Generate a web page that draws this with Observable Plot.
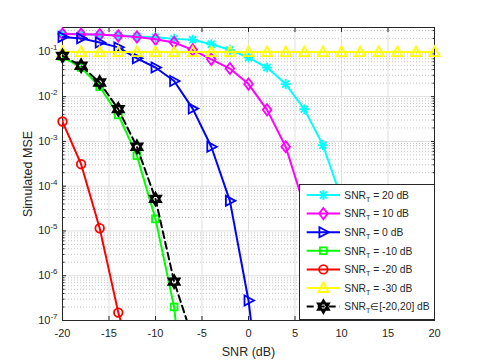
<!DOCTYPE html>
<html><head><meta charset="utf-8">
<script src="https://cdn.jsdelivr.net/npm/d3@7"></script>
<script src="https://cdn.jsdelivr.net/npm/@observablehq/plot@0.6"></script>
<style>
body{margin:0;background:#fff}
#wrap{position:relative;width:480px;height:360px;font-family:'Liberation Sans',Arial,Helvetica,sans-serif}
</style>
</head><body><div id="wrap"></div>
<script>
// ---- data ----
const snr = [-20,-18,-16,-14,-12,-10,-8,-6,-4,-2,0,2,4,6,8,10,12,14,16,18,20];
const mseT20  = [0.257,0.245,0.240,0.234,0.221,0.211,0.195,0.186,0.148,0.111,0.0746,0.0447,0.0191,5.25e-3,8.3e-4,5.2e-5,7.8e-7,1.3e-8];
const mseT10  = [0.251,0.248,0.243,0.228,0.216,0.192,0.162,0.111,0.068,0.0424,0.0191,5.07e-3,7.6e-4,3.6e-5,1.0e-6,2.1e-8];
const mseT0   = [0.216,0.200,0.162,0.126,0.0716,0.0447,0.0224,5.4e-3,7.6e-4,4.7e-5,2.8e-7,1e-10];
const mseTm10 = [0.0776,0.0447,0.0166,3.9e-3,4.8e-4,1.86e-5,2.0e-7,3e-11];
const mseTm20 = [2.78e-3,3.1e-4,1.15e-5,1.5e-7,6.3e-9];
const mseTm30 = [0.099,0.099,0.099,0.099,0.099,0.099,0.099,0.099,0.099,0.099,0.099,0.099,0.099,0.099,0.099,0.099,0.099,0.099,0.099,0.099,0.099];
const mseRange = [0.0813,0.049,0.0207,5.25e-3,7.6e-4,5.2e-5,7.4e-7,4e-8];
const legendLabels = [" = 20 dB"," = 10 dB"," = 0 dB"," = -10 dB"," = -20 dB"," = -30 dB","\u2208[-20,20] dB"];
const xTicks = [-20,-15,-10,-5,0,5,10,15,20];
const yMajor = [1e-7,1e-6,1e-5,1e-4,1e-3,1e-2,1e-1];
const minorMult = [2,3,4,5,6,7,8,9];

const yMinor = [];
for (const d of yMajor) for (const m of minorMult) { const v = d*m; if (v <= 0.35) yMinor.push(v); }

// ---- marker shapes (MATLAB-like) ----
const R = s => Math.sqrt(s/Math.PI)/5;
const asterisk = {draw(c,s){const k=R(s)*5;for(const a of [0,45,90,135]){const t=a*Math.PI/180;c.moveTo(-k*Math.cos(t),-k*Math.sin(t));c.lineTo(k*Math.cos(t),k*Math.sin(t));}}};
const diamond = {draw(c,s){const k=R(s);c.moveTo(0,-5.6*k);c.lineTo(4.3*k,0);c.lineTo(0,5.6*k);c.lineTo(-4.3*k,0);c.closePath();}};
const triRight = {draw(c,s){const k=R(s);c.moveTo(5.5*k,0);c.lineTo(-4*k,-5*k);c.lineTo(-4*k,5*k);c.closePath();}};
const square = {draw(c,s){const k=R(s);c.rect(-3.4*k,-3.4*k,6.8*k,6.8*k);}};
const circle = {draw(c,s){const k=R(s);c.moveTo(4.3*k,0);c.arc(0,0,4.3*k,0,2*Math.PI);}};
const triUp = {draw(c,s){const k=R(s);c.moveTo(0,-5.6*k);c.lineTo(5*k,4*k);c.lineTo(-5*k,4*k);c.closePath();}};
const hexagram = {draw(c,s){const k=R(s);const ro=6.2*k;
  for (const off of [-Math.PI/2, Math.PI/2]) {
    for (let i=0;i<3;i++){const a=off+i*2*Math.PI/3;const x=ro*Math.cos(a),y=ro*Math.sin(a);i?c.lineTo(x,y):c.moveTo(x,y);}
    c.closePath();
  }}};

const series = [
  {mse: mseT20,  color:"#00ffff", symbol: asterisk, dash: null},
  {mse: mseT10,  color:"#ff00ff", symbol: diamond,  dash: null},
  {mse: mseT0,   color:"#0000ff", symbol: triRight, dash: null},
  {mse: mseTm10, color:"#00ff00", symbol: square,   dash: null},
  {mse: mseTm20, color:"#ff0000", symbol: circle,   dash: null},
  {mse: mseTm30, color:"#ffff00", symbol: triUp,    dash: null},
  {mse: mseRange,color:"#000000", symbol: hexagram, dash: "7,4"}
];

const dataMarks = [];
for (const s of series) {
  const rows = s.mse.map((v,i) => ({snr: snr[i], mse: v}));
  dataMarks.push(Plot.line(rows, {x:"snr", y:"mse", stroke:s.color, strokeWidth:2, clip:true, strokeDasharray: s.dash ?? undefined}));
  dataMarks.push(Plot.dot(rows, {x:"snr", y:"mse", filter: d => d.mse >= 1e-7, symbol: s.symbol, r:5, stroke:s.color, fill:"none", strokeWidth: s.symbol === hexagram ? 2.2 : 1.8}));
}

const chart = Plot.plot({
  width: 480, height: 360,
  marginLeft: 62, marginRight: 46, marginTop: 27, marginBottom: 40,
  style: {fontFamily:"'Liberation Sans', Arial, Helvetica, sans-serif", fontSize:"11px", color:"#262626", background:"#fff", overflow:"visible"},
  x: {domain: [-20, 20]},
  y: {type: "log", domain: [1e-7, 0.35]},
  marks: [
    Plot.gridY(yMinor, {stroke:"#c4c4c4", strokeOpacity:1, strokeDasharray:"1,2"}),
    Plot.gridY(yMajor, {stroke:"#dfdfdf", strokeOpacity:1}),
    Plot.gridX(xTicks, {stroke:"#dfdfdf", strokeOpacity:1}),
    Plot.axisX(xTicks, {anchor:"bottom", tickSize:0, tickPadding:9, tickFormat: d => String(d), label:"SNR (dB)", labelAnchor:"center", labelOffset:35, labelArrow:"none"}),
    Plot.axisX(xTicks, {anchor:"bottom", tickSize:-4, tickFormat: () => "", label:null}),
    Plot.axisX(xTicks, {anchor:"top", tickSize:-4, tickFormat: () => "", label:null}),
    Plot.axisY(yMajor, {anchor:"left", tickSize:0, tickPadding:5, tickFormat: d => "10^" + Math.round(Math.log10(d)), label:"Simulated MSE", labelAnchor:"center", labelOffset:39, labelArrow:"none"}),
    Plot.axisY(yMajor, {anchor:"left", tickSize:-4, tickFormat: () => "", label:null}),
    Plot.axisY(yMajor, {anchor:"right", tickSize:-4, tickFormat: () => "", label:null}),
    Plot.axisY(yMinor, {anchor:"left", tickSize:-2.5, tickFormat: () => "", label:null}),
    Plot.axisY(yMinor, {anchor:"right", tickSize:-2.5, tickFormat: () => "", label:null}),
    Plot.frame({stroke:"#262626"}),
    ...dataMarks
  ]
});
document.getElementById("wrap").appendChild(chart);

// superscripts on y tick labels
const NS = "http://www.w3.org/2000/svg";
chart.querySelectorAll('g[aria-label="y-axis tick label"] text').forEach(t => {
  const m = (t.textContent || "").match(/^10\^(.*)$/);
  if (!m) return;
  t.textContent = "";
  const a = document.createElementNS(NS, "tspan"); a.textContent = "10";
  const b = document.createElementNS(NS, "tspan"); b.textContent = m[1];
  b.setAttribute("dy", "-5"); b.setAttribute("font-size", "8");
  t.append(a, b);
});
chart.querySelectorAll('g[aria-label="x-axis label"] text, g[aria-label="y-axis label"] text').forEach(t => t.setAttribute("font-size", "12.5"));
chart.querySelectorAll('g[aria-label="x-axis label"], g[aria-label="y-axis label"]').forEach(g => g.setAttribute("font-size", "12.5"));

// legend (overlay, MATLAB-style inside southeast)
const lg = d3.select("#wrap").append("svg")
  .style("position","absolute").style("left","299px").style("top","184px")
  .attr("width",137).attr("height",137)
  .style("font-family","'Liberation Sans', Arial, Helvetica, sans-serif");
lg.append("rect").attr("x",0.5).attr("y",0.5).attr("width",135).attr("height",135).attr("fill","#fff").attr("stroke","#262626");
series.forEach((s,i) => {
  const y = 11 + 18.6*i;
  lg.append("line").attr("x1",7.7).attr("x2",41).attr("y1",y).attr("y2",y)
    .attr("stroke",s.color).attr("stroke-width",2).attr("stroke-dasharray", s.dash);
  const p = d3.path(); s.symbol.draw(p, 25*Math.PI);
  lg.append("path").attr("d", p.toString()).attr("transform",`translate(24.4,${y})`)
    .attr("fill","none").attr("stroke",s.color).attr("stroke-width", s.symbol === hexagram ? 2.2 : 1.8);
  const t = lg.append("text").attr("x",45.3).attr("y",y+3.7).attr("font-size",10.3).attr("fill","#262626");
  t.append("tspan").text("SNR");
  t.append("tspan").attr("dy",3).attr("font-size",7).text("T");
  t.append("tspan").attr("dy",-3).text(legendLabels[i]);
});
</script>
</body></html>
